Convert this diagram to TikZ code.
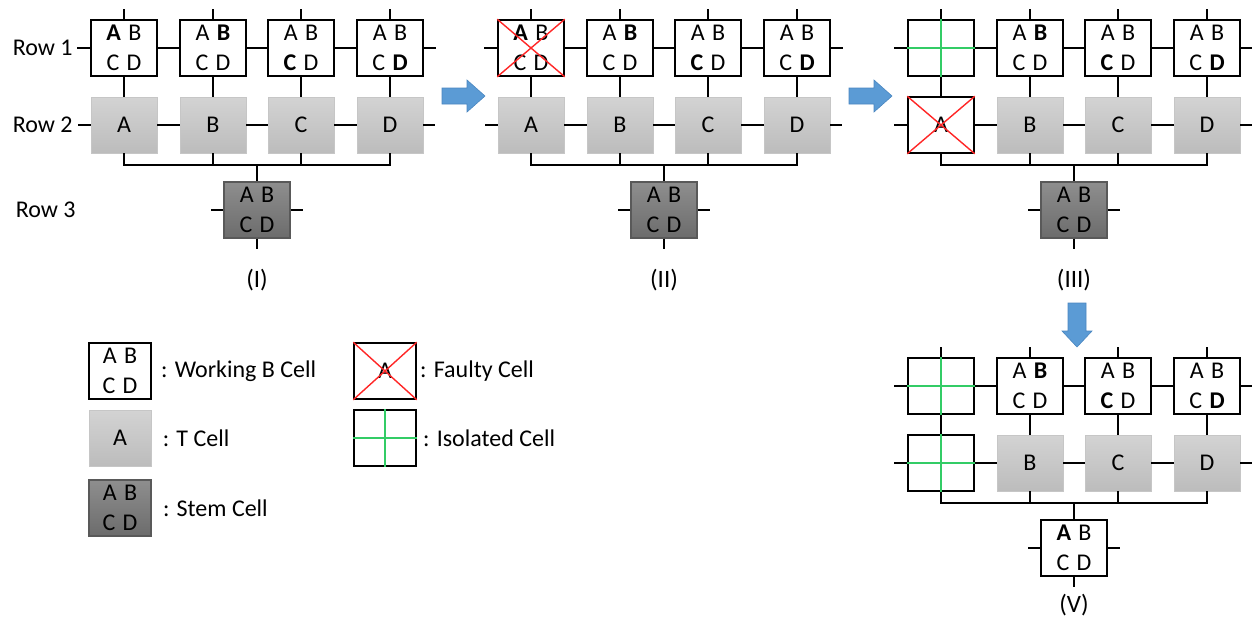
\documentclass[tikz,border=0pt]{standalone}
\usepackage{fontspec}
\setmainfont{Carlito}
\usetikzlibrary{positioning}
\definecolor{ttop}{HTML}{D3D3D3}
\definecolor{tbot}{HTML}{BCBCBC}
\definecolor{tedge}{HTML}{C6C6C6}
\definecolor{stop}{HTML}{8E8E8E}
\definecolor{sbot}{HTML}{6C6C6C}
\definecolor{sedge}{HTML}{595959}
\definecolor{flow}{HTML}{5B9BD5}
\definecolor{flowedge}{HTML}{4A86C0}
\definecolor{iso}{HTML}{33CC66}
\definecolor{fault}{HTML}{FF2626}
\tikzset{
  cellbox/.style={minimum width=33pt,minimum height=28pt,inner sep=0pt,
                  align=center,font=\fontsize{12}{15}\selectfont},
  bcell/.style={cellbox,draw=black,line width=.75pt,fill=white},
  tcell/.style={cellbox,draw=tedge,line width=.4pt,top color=ttop,bottom color=tbot},
  scell/.style={cellbox,draw=sedge,line width=.6pt,top color=stop,bottom color=sbot},
  legsize/.style={minimum width=31pt},
  wire/.style={black,line width=1pt},
  isoline/.style={iso,line width=.7pt},
  faultline/.style={fault,line width=.7pt},
  flowfill/.style={fill=flow,draw=flowedge,line width=.3pt},
  rowlab/.style={anchor=east,inner sep=0pt,font=\fontsize{12}{14}\selectfont},
  panlab/.style={font=\fontsize{12.5}{14}\selectfont},
  legtext/.style={inner sep=0pt,font=\fontsize{12}{14}\selectfont}
}
% two letters of a cell, with the wide gap of the picture
\newcommand{\lt}[2]{#1\hspace{1pt} #2}
% wires of one array: #1 is the panel prefix
\newcommand{\cellwires}[1]{%
  \foreach \c in {a,b,c,d} {
    \draw[wire] (#1-1\c.north) -- ++(0,-10);
    \draw[wire] (#1-1\c.south) -- (#1-2\c.north);
  }
  \draw[wire] (#1-1a.west) -- ++(-13,0);
  \draw[wire] (#1-1a.east) -- (#1-1b.west);
  \draw[wire] (#1-1b.east) -- (#1-1c.west);
  \draw[wire] (#1-1c.east) -- (#1-1d.west);
  \draw[wire] (#1-1d.east) -- ++(12,0);
  \draw[wire] (#1-2a.west) -- ++(-13,0);
  \draw[wire] (#1-2a.east) -- (#1-2b.west);
  \draw[wire] (#1-2b.east) -- (#1-2c.west);
  \draw[wire] (#1-2c.east) -- (#1-2d.west);
  \draw[wire] (#1-2d.east) -- ++(12,0);
  \path (#1-3.north) ++(0,-16) coordinate (#1-bus);
  \draw[wire] (#1-2a.south) |- (#1-bus) -| (#1-2d.south);
  \draw[wire] (#1-2b.south) -- (#1-2b.south |- #1-bus);
  \draw[wire] (#1-2c.south) -- (#1-2c.south |- #1-bus);
  \draw[wire] (#1-bus) -- (#1-3.north);
  \draw[wire] (#1-3.west) -- ++(-12,0);
  \draw[wire] (#1-3.east) -- ++(12,0);
  \draw[wire] (#1-3.south) -- ++(0,10);
}
\newcommand{\isocross}[1]{\draw[isoline] (#1.west) -- (#1.east) (#1.north) -- (#1.south);}
\newcommand{\faultcross}[1]{\draw[faultline] (#1.north west) -- (#1.south east)
  (#1.north east) -- (#1.south west);}

\begin{document}
\begin{tikzpicture}[x=.5pt,y=-.5pt]
\useasboundingbox (0,0) rectangle (1252,618);

% ---------------- panel (I)
\node[rowlab] (row1) at (73,48) {Row 1};
\node[rowlab] (row2) at (73,125) {Row 2};
\node[rowlab] (row3) at (76,210) {Row 3};
\begin{scope}
  \node[bcell] (I-1a) at (124,48) {\lt{\textbf{A}}{B}\\\lt{C}{D}};
  \node[bcell] (I-1b) at (213,48) {\lt{A}{\textbf{B}}\\\lt{C}{D}};
  \node[bcell] (I-1c) at (301,48) {\lt{A}{B}\\\lt{\textbf{C}}{D}};
  \node[bcell] (I-1d) at (390,48) {\lt{A}{B}\\\lt{C}{\textbf{D}}};
  \node[tcell] (I-2a) at (124,125) {A};
  \node[tcell] (I-2b) at (213,125) {B};
  \node[tcell] (I-2c) at (301,125) {C};
  \node[tcell] (I-2d) at (390,125) {D};
  \node[scell] (I-3) at (257,210) {\lt{A}{B}\\\lt{C}{D}};
  \cellwires{I}
  \node[panlab] (I-lab) at (257,280) {(I)};
\end{scope}

\coordinate (step1) at (442,96);
\fill[flowfill] (step1) ++(0,-8) -- ++(25,0) -- ++(0,-8) -- ++(18,16)
  -- ++(-18,16) -- ++(0,-8) -- ++(-25,0) -- cycle;

% ---------------- panel (II): faulty B cell in row 1
\begin{scope}[shift={(407,0)}]
  \node[bcell] (II-1a) at (124,48) {\lt{\textbf{A}}{B}\\\lt{C}{D}};
  \node[bcell] (II-1b) at (213,48) {\lt{A}{\textbf{B}}\\\lt{C}{D}};
  \node[bcell] (II-1c) at (301,48) {\lt{A}{B}\\\lt{\textbf{C}}{D}};
  \node[bcell] (II-1d) at (390,48) {\lt{A}{B}\\\lt{C}{\textbf{D}}};
  \node[tcell] (II-2a) at (124,125) {A};
  \node[tcell] (II-2b) at (213,125) {B};
  \node[tcell] (II-2c) at (301,125) {C};
  \node[tcell] (II-2d) at (390,125) {D};
  \node[scell] (II-3) at (257,210) {\lt{A}{B}\\\lt{C}{D}};
  \faultcross{II-1a}
  \cellwires{II}
  \node[panlab] (II-lab) at (257,280) {(II)};
\end{scope}

\coordinate (step2) at (849,96);
\fill[flowfill] (step2) ++(0,-8) -- ++(25,0) -- ++(0,-8) -- ++(18,16)
  -- ++(-18,16) -- ++(0,-8) -- ++(-25,0) -- cycle;

% ---------------- panel (III): isolated cell, faulty T cell
\begin{scope}[shift={(817,0)}]
  \node[bcell] (III-1a) at (124,48) {};
  \node[bcell] (III-1b) at (213,48) {\lt{A}{\textbf{B}}\\\lt{C}{D}};
  \node[bcell] (III-1c) at (301,48) {\lt{A}{B}\\\lt{\textbf{C}}{D}};
  \node[bcell] (III-1d) at (390,48) {\lt{A}{B}\\\lt{C}{\textbf{D}}};
  \node[bcell] (III-2a) at (124,125) {A};
  \node[tcell] (III-2b) at (213,125) {B};
  \node[tcell] (III-2c) at (301,125) {C};
  \node[tcell] (III-2d) at (390,125) {D};
  \node[scell] (III-3) at (257,210) {\lt{A}{B}\\\lt{C}{D}};
  \isocross{III-1a}
  \faultcross{III-2a}
  \cellwires{III}
  \node[panlab] (III-lab) at (257,280) {(III)};
\end{scope}

\coordinate (step3) at (1077,303);
\fill[flowfill] (step3) ++(-9,0) -- ++(0,28) -- ++(-6,0) -- ++(15,16)
  -- ++(15,-16) -- ++(-6,0) -- ++(0,-28) -- cycle;

% ---------------- panel (V): stem cell takes over
\begin{scope}[shift={(817,338)}]
  \node[bcell] (V-1a) at (124,48) {};
  \node[bcell] (V-1b) at (213,48) {\lt{A}{\textbf{B}}\\\lt{C}{D}};
  \node[bcell] (V-1c) at (301,48) {\lt{A}{B}\\\lt{\textbf{C}}{D}};
  \node[bcell] (V-1d) at (390,48) {\lt{A}{B}\\\lt{C}{\textbf{D}}};
  \node[bcell] (V-2a) at (124,125) {};
  \node[tcell] (V-2b) at (213,125) {B};
  \node[tcell] (V-2c) at (301,125) {C};
  \node[tcell] (V-2d) at (390,125) {D};
  \node[bcell] (V-3) at (257,210) {\lt{\textbf{A}}{B}\\\lt{C}{D}};
  \isocross{V-1a}
  \isocross{V-2a}
  \cellwires{V}
  \node[panlab] (V-lab) at (257,267) {(V)};
\end{scope}

% ---------------- legend
\node[bcell,legsize] (legB) at (120,371) {\lt{A}{B}\\\lt{C}{D}};
\node[tcell,legsize] (legT) at (120,438) {A};
\node[scell,legsize] (legS) at (120,508) {\lt{A}{B}\\\lt{C}{D}};
\node[bcell,legsize] (legF) at (385,371) {A};
\node[bcell,legsize] (legI) at (385,438) {};
\faultcross{legF}
\isocross{legI}
\node[legtext,right=4.5pt of legB] (legBt) {: Working B Cell};
\node[legtext,right=5.5pt of legT] (legTt) {: T Cell};
\node[legtext,right=5.5pt of legS] (legSt) {: Stem Cell};
\node[legtext,right=1.5pt of legF] (legFt) {: Faulty Cell};
\node[legtext,right=3pt of legI] (legIt) {: Isolated Cell};
\end{tikzpicture}
\end{document}
